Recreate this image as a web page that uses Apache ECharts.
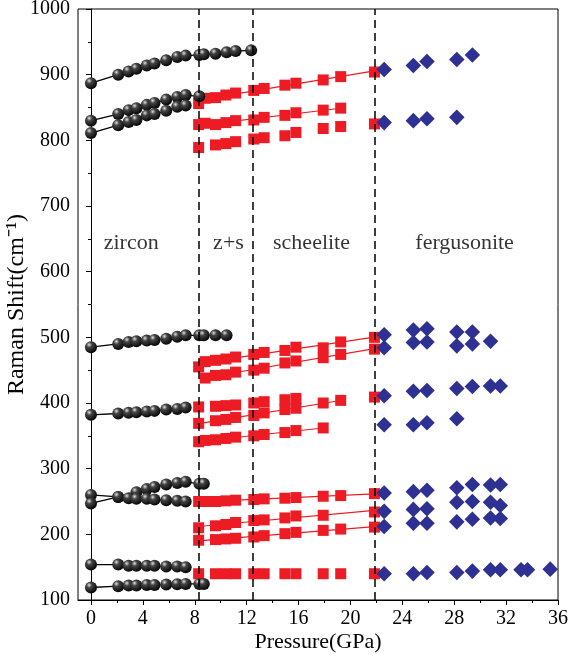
<!DOCTYPE html>
<html><head><meta charset="utf-8">
<script src="https://cdn.jsdelivr.net/npm/echarts@6/dist/echarts.min.js"></script>
<style>html,body{margin:0;padding:0;background:#fff}#c{width:568px;height:660px}</style>
</head><body><div id="c"></div>
<script>
// ---------- tick labels ----------
const xTicks = [0, 4, 8, 12, 16, 20, 24, 28, 32, 36];
const xMinorTicks = [2, 6, 10, 14, 18, 22, 26, 30, 34];
const phaseBoundaries = [8.3, 12.5, 21.9];
const phaseNames = ['zircon', 'z+s', 'scheelite', 'fergusonite'];

// ---------- zircon (black circles, connected) ----------
const zircon937 = [[0,887],[2.1,900],[2.9,905],[3.5,909],[4.3,914],[4.9,917],[5.8,922],[6.65,927],[7.3,929],[8.35,930],[8.7,931],[9.6,932],[10.45,934],[11.15,936],[12.35,937]];
const zircon867 = [[0,830],[2.1,840],[2.9,846],[3.5,849],[4.3,854],[4.9,857],[5.8,862],[6.65,866],[7.3,869],[8.35,867]];
const zircon853 = [[0,811],[2.1,823],[2.9,828],[3.5,831],[4.3,838],[4.9,840],[5.8,845],[6.65,851],[7.3,853]];
const zircon503 = [[0,485],[2.1,490],[2.9,493],[3.5,494],[4.3,495],[4.9,496],[5.8,498],[6.65,501],[7.3,503],[8.35,503],[8.7,503],[9.6,503],[10.45,503]];
const zircon393 = [[0,382],[2.1,384],[2.9,385],[3.5,386],[4.3,387],[4.9,388],[5.8,390],[6.65,391],[7.3,393]];
const zircon277 = [[0,260],[2.1,257],[3.5,264],[4.3,269],[4.9,272],[5.8,276],[6.65,278],[7.3,280],[8.35,277],[8.7,277]];
const zircon250 = [[0,247],[2.1,257],[2.9,255],[3.5,254],[4.3,254],[4.9,253],[5.8,252],[6.65,251],[7.3,250]];
const zircon152 = [[0,154],[2.1,154],[2.9,152],[3.5,152],[4.3,152],[4.9,152],[5.8,151],[6.65,151],[7.3,150]];
const zircon124 = [[0,119],[2.1,121],[2.9,122],[3.5,122],[4.3,123],[4.9,123],[5.8,123.5],[6.65,124],[7.3,124.5],[8.35,124.5],[8.7,124.5]];

// ---------- scheelite (red squares) ----------
const sch904 = [[8.3,856],[8.8,864],[9.6,865],[10.4,869],[11.15,872],[12.55,876],[13.35,879],[14.95,884],[15.8,887],[17.9,892],[19.25,897],[21.85,904]];
const sch849 = [[8.3,824],[8.8,826],[9.6,824],[10.4,827],[11.15,830],[12.55,831],[13.35,835],[14.95,838],[15.8,842],[17.9,846],[19.25,849]];
const sch825 = [[8.3,789],[9.6,793],[10.4,795],[11.15,798],[12.55,802],[13.35,804],[14.95,807],[15.8,812],[17.9,818],[19.25,821],[21.85,825]];
const sch500 = [[8.3,455],[8.8,463],[9.6,465],[10.4,467],[11.15,470],[12.55,474],[13.35,477],[14.95,480],[15.8,485],[17.9,484],[19.25,493],[21.85,500]];
const sch482 = [[8.8,438],[9.6,442],[10.4,443],[11.15,447],[12.55,450],[13.35,453],[14.95,461],[15.8,464],[17.9,469],[19.25,474],[21.85,482]];
const sch409 = [[8.3,394],[9.6,395],[10.4,396],[11.15,397],[12.55,400],[13.35,402],[14.95,405],[15.8,407],[21.85,409]];
const sch404 = [[8.3,369],[9.6,373],[10.4,375],[11.15,378],[12.55,381],[13.35,385],[14.95,390],[15.8,392],[17.9,400],[19.25,404]];
const sch362 = [[8.3,341],[8.8,343],[9.6,344],[10.4,346],[11.15,348],[12.55,350],[13.35,352],[14.95,355],[15.8,358],[17.9,362]];
const sch262 = [[8.3,250],[8.8,250],[9.6,250],[10.4,251],[11.15,252],[12.55,253],[13.35,254],[14.95,255],[15.8,256],[17.9,258],[19.25,259],[21.85,262]];
const sch234 = [[8.3,210],[9.6,213],[10.4,215],[11.15,218],[12.55,221],[13.35,222],[14.95,225],[15.8,228],[17.9,229],[21.85,234]];
const sch211 = [[8.3,191],[9.6,192],[10.4,193],[11.15,194],[12.55,196],[13.35,198],[14.95,201],[15.8,203],[17.9,206],[19.25,208],[21.85,211]];
const sch140 = [[8.3,140],[9.6,140],[10.4,140],[11.15,140],[12.55,140],[13.35,140],[14.95,140],[15.8,140],[17.9,140],[19.25,140],[21.85,140]];

// ---------- fergusonite (blue diamonds) ----------
const fer930 = [[22.6,908],[24.85,914],[25.9,920],[28.2,923],[29.4,930]];
const fer835 = [[22.6,827],[24.85,830],[25.9,833],[28.2,835]];
const fer511 = [[22.6,504],[24.85,511],[25.9,513],[28.2,508],[29.4,508]];
const fer492 = [[22.6,484],[24.85,492],[25.9,493],[28.2,487],[29.4,490],[30.8,494]];
const fer426 = [[22.6,411],[24.85,418],[25.9,419],[28.2,422],[29.4,425],[30.8,426],[31.55,426]];
const fer372 = [[22.6,367],[24.85,367],[25.9,370],[28.2,376]];
const fer275 = [[22.6,263],[24.85,265],[25.9,267],[28.2,271],[29.4,276],[30.8,275],[31.55,276]];
const fer248 = [[22.6,235],[24.85,238],[25.9,239],[28.2,249],[29.4,250],[30.8,249],[31.55,244]];
const fer223 = [[22.6,212],[24.85,217],[25.9,217],[28.2,219],[29.4,223],[30.8,225],[31.55,224]];
const fer146 = [[22.6,140],[24.85,140],[25.9,142],[28.2,142],[29.4,144],[30.8,146],[31.55,146],[33.15,146],[33.65,146],[35.4,147]];

const zirconSets = [zircon937, zircon867, zircon853, zircon503, zircon393, zircon277, zircon250, zircon152, zircon124];
const schFitted = [sch904, sch849, sch500, sch482, sch404, sch362, sch262, sch234, sch211];
const schPlain = [sch825, sch409, sch140];
const ferSets = [fer930, fer835, fer511, fer492, fer426, fer372, fer275, fer248, fer223, fer146];

// ---------- build ----------
const FONT = 'Liberation Serif';
const RED = '#ED1C24', BLUE = '#2E3192';
function linFit(d) {
  const n = d.length; let sx=0, sy=0, sxx=0, sxy=0;
  d.forEach(([x,y]) => { sx+=x; sy+=y; sxx+=x*x; sxy+=x*y; });
  const b = (n*sxy - sx*sy)/(n*sxx - sx*sx), a = (sy - b*sx)/n;
  const x0 = d[0][0], x1 = d[n-1][0];
  return [[x0, a+b*x0], [x1, a+b*x1]];
}
const sphere = new echarts.graphic.RadialGradient(0.35, 0.3, 0.75, [
  {offset:0, color:'#e0e0e0'}, {offset:0.3, color:'#444'}, {offset:1, color:'#000'}]);

const series = [];
zirconSets.forEach(d => series.push({
  type:'line', data:d, symbol:'circle', symbolSize:12, showSymbol:true,
  lineStyle:{color:'#000', width:1.3}, itemStyle:{color:sphere, borderWidth:0, opacity:1}, z:4
}));
schFitted.forEach(d => series.push({
  type:'line', data:linFit(d), symbol:'none', lineStyle:{color:RED, width:1.2}, z:2
}));
schFitted.concat(schPlain).forEach(d => series.push({
  type:'scatter', data:d, symbol:'rect', symbolSize:11, itemStyle:{color:RED, opacity:1}, z:3
}));
ferSets.forEach(d => series.push({
  type:'scatter', data:d, symbol:'rect', symbolSize:11, symbolRotate:45, itemStyle:{color:BLUE, opacity:1}, z:3
}));
const phaseLabelPos = [[3.1,644],[10.6,644],[17.0,644],[28.8,644]];
series.push({
  type:'scatter', symbolSize:0, silent:true, z:5,
  data: phaseNames.map((n,i) => ({name:n, value:phaseLabelPos[i]})),
  label:{show:true, position:'inside', formatter:'{b}', color:'#000', fontFamily:FONT, fontSize:22},
  markLine:{silent:true, symbol:['none','none'], label:{show:false},
    lineStyle:{color:'#000', type:[8,5], width:1.5},
    data: phaseBoundaries.map(v => ({xAxis:v}))}
});

const chart = echarts.init(document.getElementById('c'), null, {renderer:'canvas'});
chart.setOption({
  animation:false,
  backgroundColor:'#fff',
  grid:{left:78, right:10, top:9, bottom:60, show:true, borderColor:'#000', borderWidth:1,
        backgroundColor:'transparent', containLabel:false, outerBoundsMode:'none'},
  xAxis:[{
    type:'value', min:-1, max:36, position:'bottom',
    name:'Pressure(GPa)', nameLocation:'middle', nameGap:31, nameMoveOverlap:false,
    nameTextStyle:{fontFamily:FONT, fontSize:22, color:'#000'},
    axisLine:{show:true, lineStyle:{color:'#000', width:1}},
    axisTick:{show:true, length:5, customValues:xTicks, lineStyle:{color:'#000'}},
    axisLabel:{customValues:xTicks, fontFamily:FONT, fontSize:20, color:'#000', margin:9},
    splitLine:{show:false}
  },{
    type:'value', min:-1, max:36, position:'bottom',
    axisLine:{show:false},
    axisTick:{show:true, length:3, customValues:xMinorTicks, lineStyle:{color:'#000'}},
    axisLabel:{show:false}, splitLine:{show:false}
  }],
  yAxis:{
    type:'value', min:100, max:1000, interval:100,
    name:'Raman Shift(cm\u207B\u00B9)', nameLocation:'middle', nameGap:49, nameMoveOverlap:false,
    nameTextStyle:{fontFamily:FONT, fontSize:24, color:'#000'},
    axisLine:{show:true, lineStyle:{color:'#000', width:1}},
    axisTick:{show:true, length:5, lineStyle:{color:'#000'}},
    minorTick:{show:true, splitNumber:2, length:3, lineStyle:{color:'#000'}},
    axisLabel:{fontFamily:FONT, fontSize:20, color:'#000', margin:8, formatter: v => String(v)},
    splitLine:{show:false}
  },
  series: series
});
</script>
</body></html>
